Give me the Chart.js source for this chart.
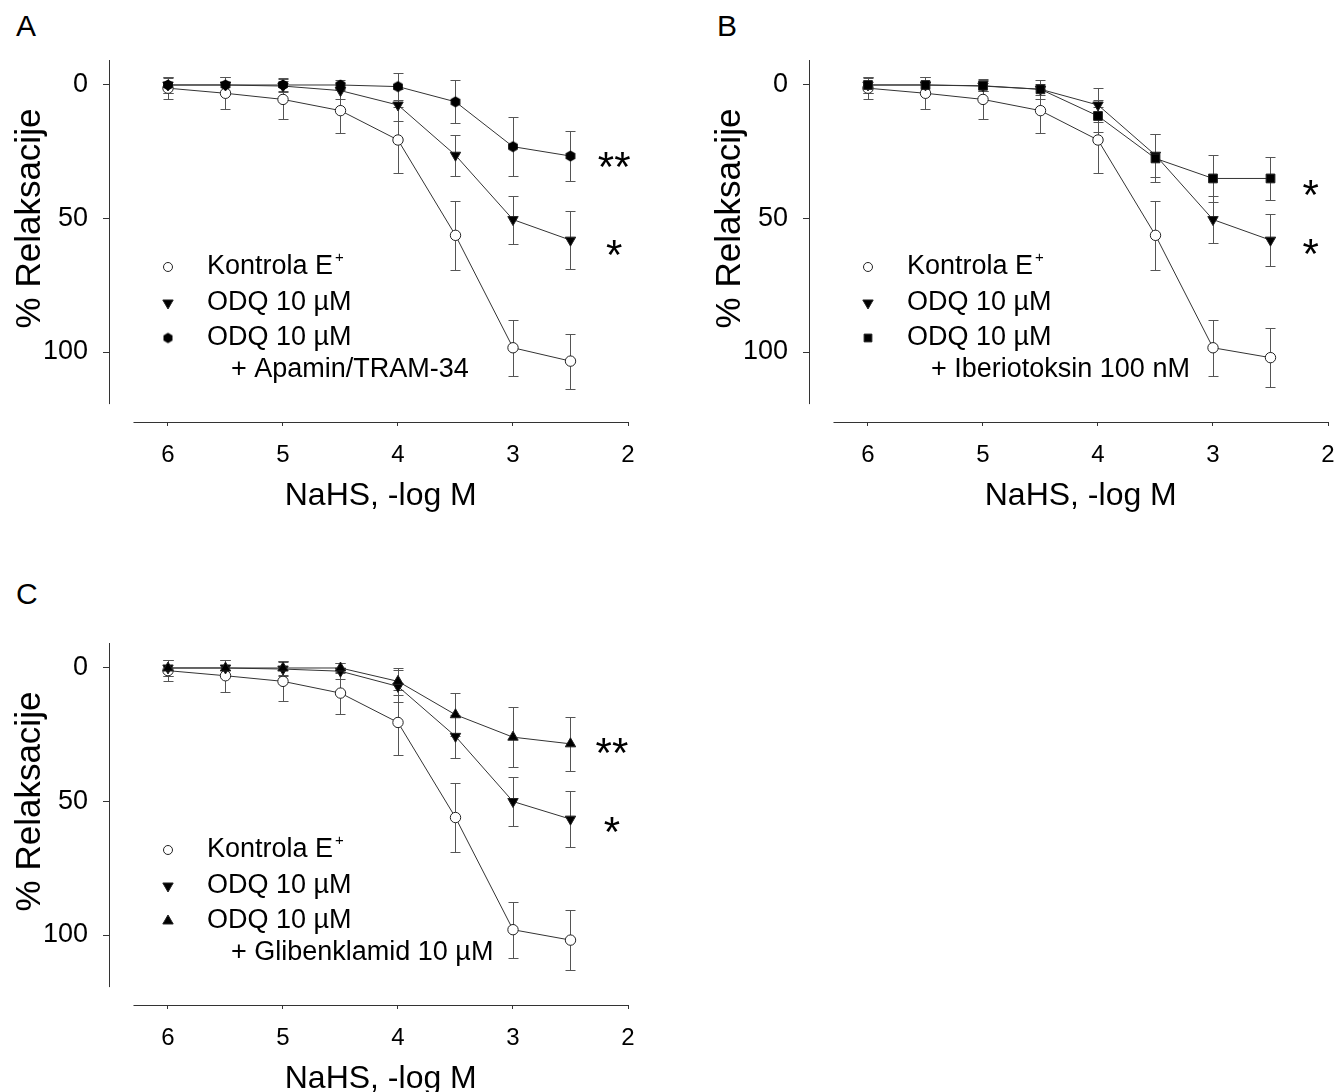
<!DOCTYPE html>
<html>
<head>
<meta charset="utf-8">
<script src="https://cdn.jsdelivr.net/npm/chart.js@4"></script>
<style>
body { margin: 0; width: 1338px; height: 1092px; position: relative; overflow: hidden; background: #fff; }
canvas { position: absolute; }
.letter { position: absolute; font-family: "Liberation Sans", Arial, sans-serif; font-size: 30px; line-height: 30px; color: #000; }
</style>
</head>
<body>
<div class="letter" style="left:16px;top:11px">A</div>
<div class="letter" style="left:717px;top:11px">B</div>
<div class="letter" style="left:16px;top:579px">C</div>
<canvas id="panelA" width="669" height="546" style="left:0;top:0"></canvas>
<canvas id="panelB" width="669" height="546" style="left:700px;top:0"></canvas>
<canvas id="panelC" width="669" height="509" style="left:0;top:583px"></canvas>
<script>
// NaHS concentration, -log M
const doses = [6, 5.5, 5, 4.5, 4, 3.5, 3, 2.5];
const xTicks = [6, 5, 4, 3, 2];
const yTicks = [0, 50, 100];

// panel A
const kontrolaA = [1.2, 3.1, 5.4, 9.6, 20.6, 56.3, 98.4, 103.4];
const kontrolaErrA = [4, 6, 7.5, 8.2, 12.3, 13, 10.5, 10.3];
const odqA = [0, 0, 0.4, 2.1, 7.5, 26.3, 50.4, 58.1];
const odqErrA = [3, 3, 2, 3, 6, 7.7, 9, 10.9];
const apaminA = [0, 0, 0, 0, 0.6, 6.3, 23.1, 26.6];
const apaminErrA = [3, 3, 2.5, 2, 5, 8.1, 11.1, 9.2];

// panel B
const kontrolaB = [1.2, 3.1, 5.4, 9.6, 20.6, 56.3, 98.4, 102.1];
const kontrolaErrB = [4, 6, 7.5, 8.2, 12.3, 13, 10.4, 11];
const odqB = [0, 0, 0.4, 1.6, 7.5, 26.3, 50.4, 58.1];
const odqErrB = [3, 3, 2, 2, 6.3, 8, 8.9, 9.7];
const iberioB = [0, 0, 0.3, 1.6, 11.6, 27.5, 35, 35];
const iberioErrB = [3, 3, 2, 3.5, 6, 9, 8.7, 8];

// panel C
const kontrolaC = [1, 2.9, 5, 9.4, 20.4, 56, 98, 101.9];
const kontrolaErrC = [4, 6, 7.5, 8, 12.3, 13, 10.5, 11.2];
const odqC = [0, 0, 0.4, 1.2, 6.9, 25.6, 50, 56.6];
const odqErrC = [3, 3, 2.5, 3, 6, 8, 9.2, 10.5];
const glibC = [0, 0, 0, 0, 5, 17.5, 25.9, 28.4];
const glibErrC = [3, 3, 2.5, 2, 5, 8.1, 11.2, 10.2];

const FONT = '"Liberation Sans", Arial, sans-serif';

function hexMarker(r) {
    const c = document.createElement('canvas');
    const s = Math.ceil(2 * r + 2);
    c.width = c.height = s;
    const g = c.getContext('2d');
    g.fillStyle = '#000';
    g.beginPath();
    for (let k = 0; k < 6; k++) {
        const a = -Math.PI / 2 + k * Math.PI / 3;
        g.lineTo(s / 2 + r * Math.cos(a), s / 2 + r * Math.sin(a));
    }
    g.closePath();
    g.fill();
    return c;
}

const openCircle = { pointStyle: 'circle', pointRadius: 5.2, pointBackgroundColor: '#fff',
    legendPoint: { pointStyle: 'circle', radius: 4.5, fill: '#fff' } };
const triDown = { pointStyle: 'triangle', pointRotation: 180, pointRadius: 6, pointBackgroundColor: '#000',
    legendPoint: { pointStyle: 'triangle', rotation: 180, radius: 6, fill: '#000' } };
const triUp = { pointStyle: 'triangle', pointRadius: 6, pointBackgroundColor: '#000',
    legendPoint: { pointStyle: 'triangle', radius: 6, fill: '#000' } };
const square = { pointStyle: 'rect', pointRadius: 6.2, pointBackgroundColor: '#000',
    legendPoint: { pointStyle: 'rect', radius: 5.5, fill: '#000' } };
const hexagon = { pointStyle: hexMarker(5.6), pointRadius: 5.6, pointBackgroundColor: '#000',
    legendPoint: { pointStyle: hexMarker(5.2), radius: 5.2, fill: '#000' } };

function series(label, vals, errs, style, order) {
    return Object.assign({
        label: label,
        data: doses.map((d, i) => ({ x: d, y: vals[i] })),
        errors: errs,
        order: order,
        borderColor: '#333',
        borderWidth: 1,
        tension: 0,
        pointBorderColor: '#222',
        pointBorderWidth: 1
    }, style);
}

const panelExtras = {
    id: 'panelExtras',
    beforeDatasetsDraw(chart, args, o) {
        const ctx = chart.ctx, xs = chart.scales.x, ys = chart.scales.y, ca = chart.chartArea;
        ctx.save();
        // detached axis lines
        ctx.strokeStyle = '#333';
        ctx.lineWidth = 1;
        ctx.beginPath();
        ctx.moveTo(109.5, ca.top);
        ctx.lineTo(109.5, ys.getPixelForValue(119.5));
        ctx.moveTo(xs.getPixelForValue(6.3), 422.5);
        ctx.lineTo(xs.getPixelForValue(2) + 0.5, 422.5);
        ctx.stroke();
        // error bars
        ctx.strokeStyle = '#555';
        chart.data.datasets.forEach(ds => {
            ds.data.forEach((p, i) => {
                const e = ds.errors[i];
                if (!e) return;
                const px = Math.round(xs.getPixelForValue(p.x)) + 0.5;
                const y1 = Math.round(ys.getPixelForValue(p.y - e)) + 0.5;
                const y2 = Math.round(ys.getPixelForValue(p.y + e)) + 0.5;
                ctx.beginPath();
                ctx.moveTo(px, y1); ctx.lineTo(px, y2);
                ctx.moveTo(px - 5, y1); ctx.lineTo(px + 5, y1);
                ctx.moveTo(px - 5, y2); ctx.lineTo(px + 5, y2);
                ctx.stroke();
            });
        });
        ctx.restore();
    },
    afterDraw(chart, args, o) {
        const ctx = chart.ctx, xs = chart.scales.x, ys = chart.scales.y, ca = chart.chartArea;
        const y0 = ys.getPixelForValue(0);
        ctx.save();
        ctx.fillStyle = '#000';
        // axis titles
        ctx.font = '32px ' + FONT;
        ctx.textAlign = 'center';
        ctx.textBaseline = 'alphabetic';
        ctx.fillText('NaHS, -log M', (xs.getPixelForValue(6.3) + xs.getPixelForValue(2)) / 2, 505);
        ctx.save();
        ctx.translate(40, ys.getPixelForValue(50));
        ctx.rotate(-Math.PI / 2);
        ctx.font = '35px ' + FONT;
        ctx.fillText('% Relaksacije', 0, 0);
        ctx.restore();
        // legend
        const rows = [182, 218, 253];
        ctx.textAlign = 'left';
        ctx.textBaseline = 'middle';
        chart.data.datasets.forEach((ds, i) => {
            const lp = ds.legendPoint;
            const y = y0 + rows[i];
            ctx.fillStyle = lp.fill;
            ctx.strokeStyle = '#222';
            ctx.lineWidth = 1;
            Chart.helpers.drawPoint(ctx, { pointStyle: lp.pointStyle, rotation: lp.rotation || 0, radius: lp.radius, borderWidth: 1 }, ca.left + 59, y);
            ctx.fillStyle = '#000';
            ctx.font = '27px ' + FONT;
            ctx.fillText(ds.label, ca.left + 98, y);
            if (i === 0) {
                const w = ctx.measureText(ds.label).width;
                ctx.font = '15px ' + FONT;
                ctx.fillText('+', ca.left + 100 + w, y - 9);
            }
        });
        ctx.font = '27px ' + FONT;
        ctx.fillText(o.note, ca.left + 122, y0 + 285);
        // significance marks
        ctx.font = '42px ' + FONT;
        ctx.textAlign = 'center';
        ctx.textBaseline = 'alphabetic';
        o.stars.forEach(s => {
            ctx.fillText(s.text, xs.getPixelForValue(s.x), ys.getPixelForValue(s.y) + 24);
        });
        ctx.restore();
    }
};

function makePanel(id, datasets, note, stars, padBottom) {
    new Chart(document.getElementById(id), {
        type: 'line',
        data: { datasets: datasets },
        plugins: [panelExtras],
        options: {
            responsive: false,
            animation: false,
            layout: { padding: { top: 60, right: 41, bottom: padBottom, left: 0 } },
            plugins: {
                legend: { display: false },
                tooltip: { enabled: false },
                panelExtras: { note: note, stars: stars }
            },
            scales: {
                x: {
                    type: 'linear',
                    reverse: true,
                    min: 2,
                    max: 6.513,
                    afterBuildTicks: s => { s.ticks = xTicks.map(v => ({ value: v })); },
                    afterFit: s => { s.height = 60; },
                    ticks: { font: { family: FONT, size: 24 }, color: '#000', padding: 15, maxRotation: 0 },
                    grid: { drawOnChartArea: false, tickLength: 4, color: '#333' },
                    border: { display: false }
                },
                y: {
                    type: 'linear',
                    reverse: true,
                    min: -9.36,
                    max: 126.2,
                    afterBuildTicks: s => { s.ticks = yTicks.map(v => ({ value: v })); },
                    afterFit: s => { s.width = 109; },
                    ticks: { font: { family: FONT, size: 27 }, color: '#000', padding: 15 },
                    grid: { drawOnChartArea: false, tickLength: 6, color: '#333' },
                    border: { display: false }
                }
            }
        }
    });
}

makePanel('panelA', [
    series('Kontrola E', kontrolaA, kontrolaErrA, openCircle, 3),
    series('ODQ 10 µM', odqA, odqErrA, triDown, 2),
    series('ODQ 10 µM', apaminA, apaminErrA, hexagon, 1)
], '+ Apamin/TRAM-34', [{ text: '**', x: 2.12, y: 27 }, { text: '*', x: 2.12, y: 60 }], 64);

makePanel('panelB', [
    series('Kontrola E', kontrolaB, kontrolaErrB, openCircle, 3),
    series('ODQ 10 µM', odqB, odqErrB, triDown, 2),
    series('ODQ 10 µM', iberioB, iberioErrB, square, 1)
], '+ Iberiotoksin 100 nM', [{ text: '*', x: 2.15, y: 37.5 }, { text: '*', x: 2.15, y: 59.4 }], 64);

makePanel('panelC', [
    series('Kontrola E', kontrolaC, kontrolaErrC, openCircle, 3),
    series('ODQ 10 µM', odqC, odqErrC, triDown, 2),
    series('ODQ 10 µM', glibC, glibErrC, triUp, 1)
], '+ Glibenklamid 10 µM', [{ text: '**', x: 2.14, y: 28 }, { text: '*', x: 2.14, y: 57.5 }], 27);
</script>
</body>
</html>
